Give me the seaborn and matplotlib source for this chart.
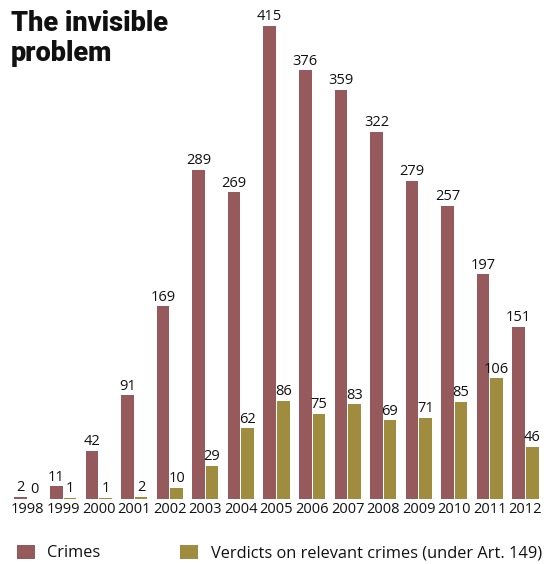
import matplotlib
matplotlib.use("Agg")
import matplotlib.pyplot as plt
from matplotlib.patches import Patch
import seaborn as sns
import pandas as pd

years = ["1998", "1999", "2000", "2001", "2002", "2003", "2004", "2005",
         "2006", "2007", "2008", "2009", "2010", "2011", "2012"]
crimes = [2, 11, 42, 91, 169, 289, 269, 415, 376, 359, 322, 279, 257, 197, 151]
verdicts = [0, 1, 1, 2, 10, 29, 62, 86, 75, 83, 69, 71, 85, 106, 46]
series_names = ["Crimes", "Verdicts on relevant crimes (under Art. 149)"]
colors = ["#965a5c", "#a08c3e"]
title = "The invisible\nproblem"

sns.set_theme(style="white")
plt.rcParams["font.family"] = ["Open Sans", "DejaVu Sans"]

df = pd.DataFrame({
    "year": years * 2,
    "value": crimes + verdicts,
    "series": [series_names[0]] * len(years) + [series_names[1]] * len(years),
})

W, H = 556, 564
fig = plt.figure(figsize=(W / 100, H / 100), dpi=100)
ax = fig.add_axes([11.5 / W, (H - 499) / H, 530 / W, 489 / H])

sns.barplot(data=df, x="year", y="value", hue="series", order=years,
            hue_order=series_names, palette=colors, width=0.76, gap=0.07,
            linewidth=0, saturation=1, ax=ax, legend=False)

for cont in ax.containers:
    ax.bar_label(cont, padding=1.2, fontsize=10.5, color="#111111")

ax.set_ylim(0, 429)
ax.set_xlim(-0.45, 14.45)
ax.set_xlabel("")
ax.set_ylabel("")
ax.set_yticks([])
ax.tick_params(axis="x", length=0, pad=2, labelsize=10.5, colors="#111111")
for s in ax.spines.values():
    s.set_visible(False)

fig.text(11 / W, 1 - 10 / H, title, ha="left", va="top", fontsize=19.5,
         fontweight=900, family=["Roboto", "DejaVu Sans"],
         linespacing=1.12, color="#111111")

handles = [Patch(facecolor=c, edgecolor="none") for c in colors]
fig.legend(handles, series_names, loc="center left",
           bbox_to_anchor=(10 / W, 1 - 553 / H), ncol=2, frameon=False,
           fontsize=11.8, handlelength=1.1, handleheight=0.95,
           handletextpad=0.75, columnspacing=4.9, borderaxespad=0,
           labelcolor="#111111")

fig.savefig("out.png", dpi=100)
